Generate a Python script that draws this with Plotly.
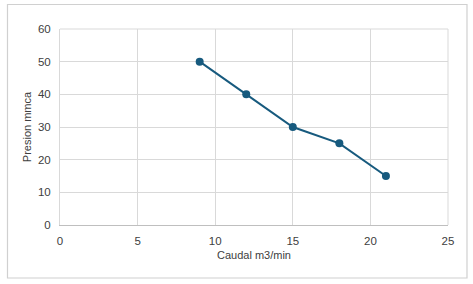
import plotly.graph_objects as go

caudal = [9, 12, 15, 18, 21]
presion = [50, 40, 30, 25, 15]
x_ticks = [0, 5, 10, 15, 20, 25]
y_ticks = [0, 10, 20, 30, 40, 50, 60]

W, H = 473, 284
L, R, T, B = 60, 25, 29, 59
pw, ph = W - L - R, H - T - B

def px_to_paper_x(px):
    return (px - L) / pw

def px_to_paper_y(py):
    return (H - B - py) / ph

fig = go.Figure()
fig.add_trace(go.Scatter(
    x=caudal, y=presion, mode="lines+markers",
    line=dict(color="#175a7e", width=2),
    marker=dict(color="#175a7e", size=8),
    showlegend=False,
))

fig.update_layout(
    width=W, height=H,
    margin=dict(l=L, r=R, t=T, b=B),
    paper_bgcolor="white", plot_bgcolor="white",
    font=dict(family="Liberation Sans, Arial, sans-serif", size=11.5, color="#404040"),
    xaxis=dict(
        range=[0, 25], tickvals=x_ticks, showgrid=True, gridcolor="#d9d9d9", gridwidth=1,
        zeroline=False, showline=True, linecolor="#bfbfbf", linewidth=1, mirror=False,
        ticks="", ticklen=0, ticklabelstandoff=5,
        title=dict(text="Caudal m3/min", font=dict(size=11, color="#404040"), standoff=5),
    ),
    yaxis=dict(
        range=[0, 60], tickvals=y_ticks, showgrid=True, gridcolor="#d9d9d9", gridwidth=1,
        zeroline=False, showline=True, linecolor="#d9d9d9", linewidth=1,
        ticks="", ticklen=0, ticklabelstandoff=6,
        title=dict(text="Presion mmca", font=dict(size=11, color="#404040"), standoff=4),
    ),
    shapes=[
        dict(type="rect", xref="paper", yref="paper",
             x0=px_to_paper_x(7.5), x1=px_to_paper_x(467),
             y0=px_to_paper_y(278), y1=px_to_paper_y(4.5),
             line=dict(color="#d0d0d0", width=1.2), fillcolor="rgba(0,0,0,0)", layer="below"),
        dict(type="line", xref="paper", yref="paper", x0=1, x1=1, y0=0, y1=1,
             line=dict(color="#d9d9d9", width=1)),
        dict(type="line", xref="paper", yref="paper", x0=0, x1=1, y0=1, y1=1,
             line=dict(color="#d9d9d9", width=1)),
    ],
)

fig.write_html("out.html")
